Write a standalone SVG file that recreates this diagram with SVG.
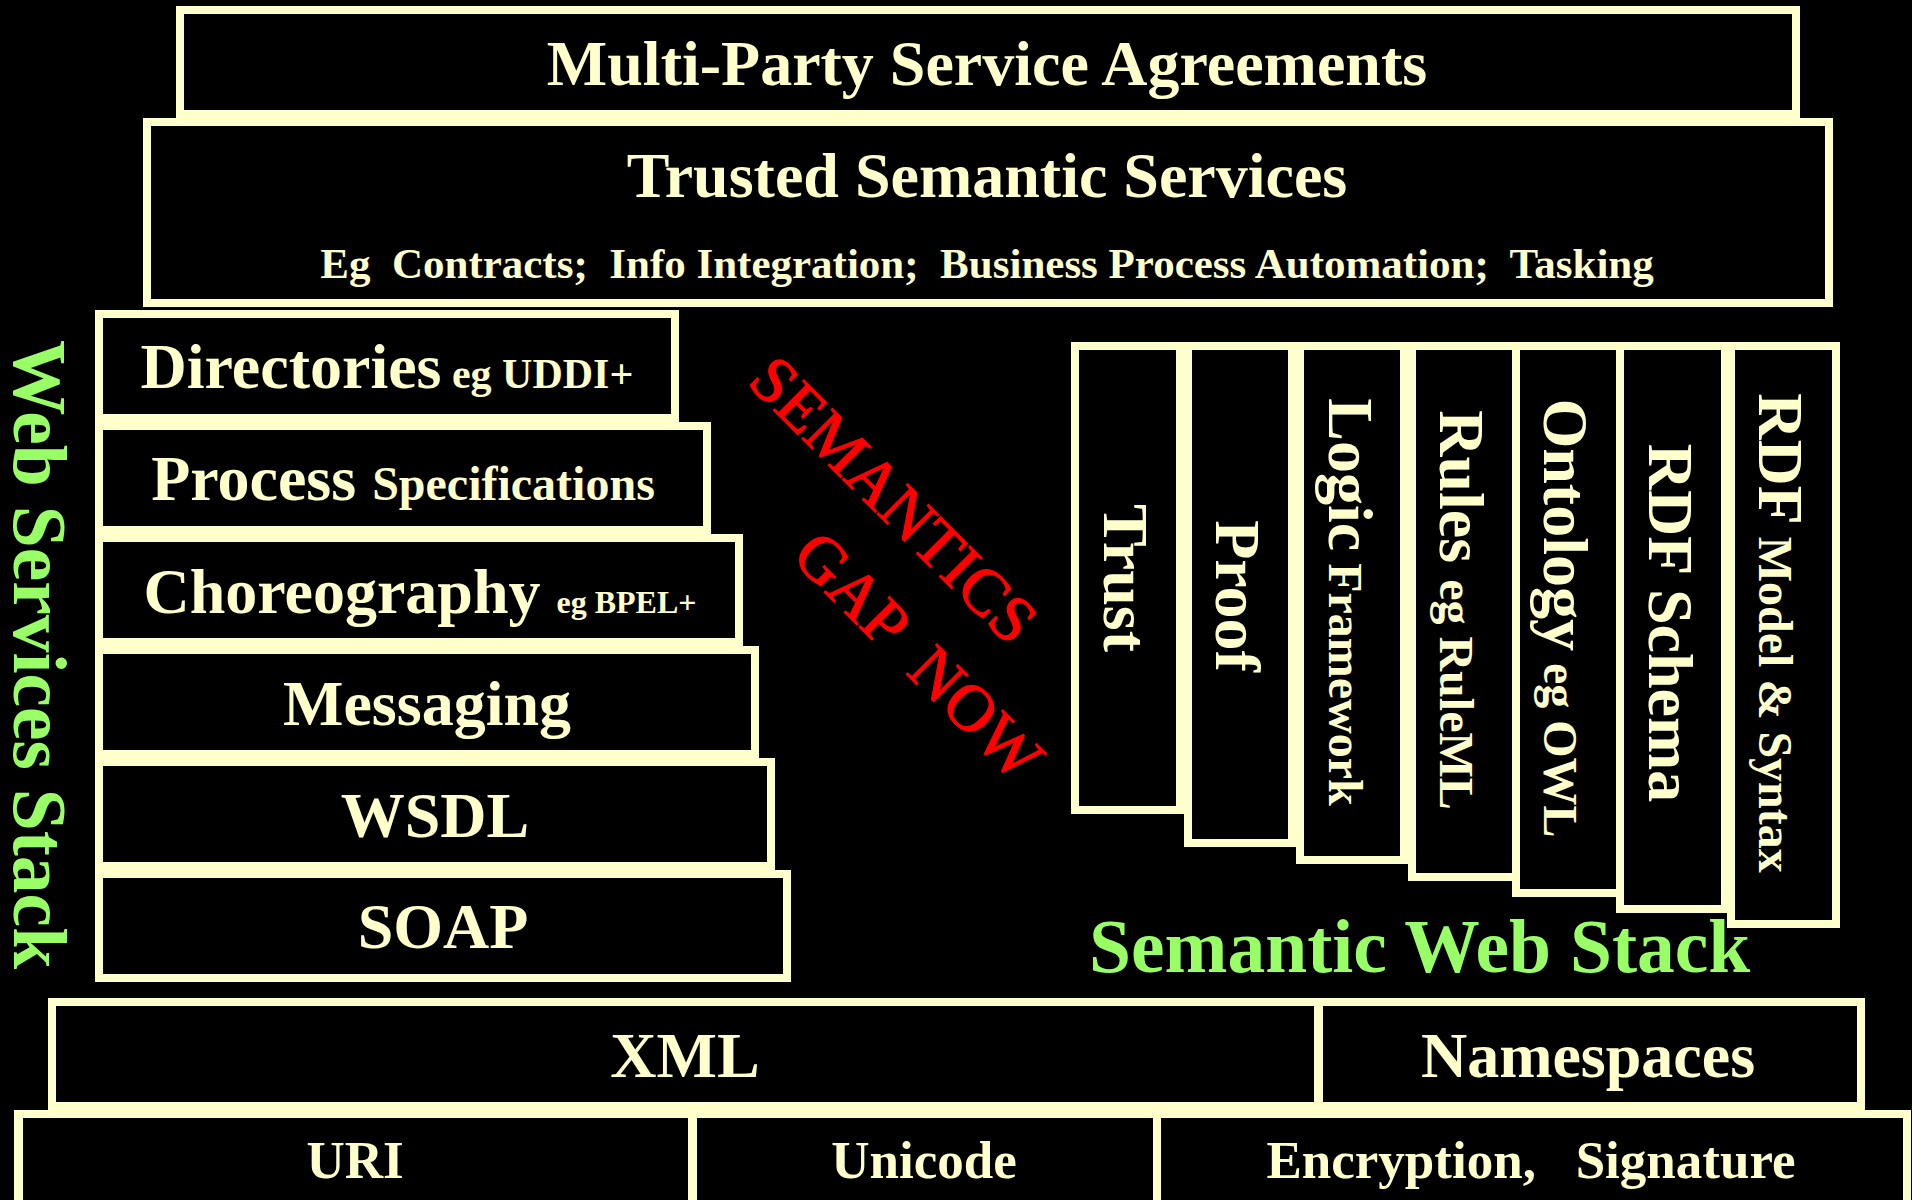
<svg xmlns="http://www.w3.org/2000/svg" width="1912" height="1200" viewBox="0 0 1912 1200">
  <style>
    .frame { fill: #FFFFCC; }
    .cell { fill: #000000; }
    .lbl { font-family: "Liberation Serif", "Times New Roman", serif; font-weight: bold; fill: #FFFFCC; }
    .mid { text-anchor: middle; }
    .f64 { font-size: 64px; }
    .f53 { font-size: 53px; }
    .f48 { font-size: 48px; }
    .f43 { font-size: 43px; }
    .f42 { font-size: 42px; }
    .f32 { font-size: 32px; }
    .stack { font-family: "Liberation Serif", "Times New Roman", serif; font-weight: bold; font-size: 75.5px; fill: #99FF66; }
    .gap { font-family: "Liberation Serif", "Times New Roman", serif; font-size: 66px; fill: #FF0000; stroke: #FF0000; stroke-width: 1.2px; }
  </style>

  <rect x="0" y="0" width="1912" height="1200" fill="#000000"/>

  <!-- top layers -->
  <g id="multi-party">
    <rect class="frame" x="176" y="6" width="1624" height="112"/>
    <rect class="cell" x="184" y="14" width="1608" height="96"/>
    <text class="lbl mid f64" x="987" y="85">Multi-Party Service Agreements</text>
  </g>

  <g id="trusted-services">
    <rect class="frame" x="143" y="118" width="1690" height="189"/>
    <rect class="cell" x="151" y="126" width="1674" height="173"/>
    <text class="lbl mid f64" x="987" y="197">Trusted Semantic Services</text>
    <text class="lbl mid f43" x="987" y="278" xml:space="preserve">Eg  Contracts;  Info Integration;  Business Process Automation;  Tasking</text>
  </g>

  <!-- web services stack (left) -->
  <g id="directories">
    <rect class="frame" x="95" y="310" width="584" height="112"/>
    <rect class="cell" x="103" y="318" width="568" height="96"/>
    <text class="lbl mid" x="387" y="388"><tspan class="f64">Directories</tspan><tspan class="f42"> eg UDDI+</tspan></text>
  </g>

  <g id="process">
    <rect class="frame" x="95" y="422" width="616" height="112"/>
    <rect class="cell" x="103" y="430" width="600" height="96"/>
    <text class="lbl mid" x="403" y="500"><tspan class="f64">Process </tspan><tspan class="f48">Specifications</tspan></text>
  </g>

  <g id="choreography">
    <rect class="frame" x="95" y="534" width="648" height="112"/>
    <rect class="cell" x="103" y="542" width="632" height="96"/>
    <text class="lbl mid" x="420" y="613"><tspan class="f64">Choreography </tspan><tspan class="f32">eg BPEL+</tspan></text>
  </g>

  <g id="messaging">
    <rect class="frame" x="95" y="646" width="664" height="112"/>
    <rect class="cell" x="103" y="654" width="648" height="96"/>
    <text class="lbl mid f64" x="427" y="725">Messaging</text>
  </g>

  <g id="wsdl">
    <rect class="frame" x="95" y="758" width="680" height="112"/>
    <rect class="cell" x="103" y="766" width="664" height="96"/>
    <text class="lbl mid f64" x="435" y="837">WSDL</text>
  </g>

  <g id="soap">
    <rect class="frame" x="95" y="870" width="696" height="112"/>
    <rect class="cell" x="103" y="878" width="680" height="96"/>
    <text class="lbl mid f64" x="443" y="948">SOAP</text>
  </g>

  <g id="web-services-title">
    <text class="stack" transform="translate(14,340) rotate(90)">Web Services Stack</text>
  </g>

  <!-- diagonal note between the stacks -->
  <g id="semantics-gap">
    <text class="gap" transform="translate(746,383) rotate(45)">SEMANTICS</text>
    <text class="gap" transform="translate(790,558) rotate(45)" xml:space="preserve">GAP  NOW</text>
  </g>

  <!-- semantic web stack (right), vertical columns -->
  <g id="trust">
    <rect class="frame" x="1071" y="342" width="113" height="472"/>
    <rect class="cell" x="1079" y="350" width="97" height="456"/>
    <text class="lbl mid f64" transform="translate(1104,578) rotate(90)">Trust</text>
  </g>

  <g id="proof">
    <rect class="frame" x="1184" y="342" width="112" height="505"/>
    <rect class="cell" x="1192" y="350" width="96" height="489"/>
    <text class="lbl mid f64" transform="translate(1216,596) rotate(90)">Proof</text>
  </g>

  <g id="logic">
    <rect class="frame" x="1296" y="342" width="112" height="522"/>
    <rect class="cell" x="1304" y="350" width="96" height="506"/>
    <text class="lbl mid" transform="translate(1329,602) rotate(90)"><tspan class="f64">Logic</tspan><tspan class="f48"> Framework</tspan></text>
  </g>

  <g id="rules">
    <rect class="frame" x="1408" y="342" width="112" height="539"/>
    <rect class="cell" x="1416" y="350" width="96" height="523"/>
    <text class="lbl mid" transform="translate(1440,610) rotate(90)"><tspan class="f64">Rules </tspan><tspan class="f48">eg RuleML</tspan></text>
  </g>

  <g id="ontology">
    <rect class="frame" x="1512" y="342" width="112" height="555"/>
    <rect class="cell" x="1520" y="350" width="96" height="539"/>
    <text class="lbl mid" transform="translate(1544,618) rotate(90)"><tspan class="f64">Ontology</tspan><tspan class="f48"> eg OWL</tspan></text>
  </g>

  <g id="rdf-schema">
    <rect class="frame" x="1616" y="342" width="113" height="571"/>
    <rect class="cell" x="1624" y="350" width="97" height="555"/>
    <text class="lbl mid f64" transform="translate(1649,623) rotate(90)">RDF Schema</text>
  </g>

  <g id="rdf-model">
    <rect class="frame" x="1727" y="342" width="113" height="586"/>
    <rect class="cell" x="1735" y="350" width="97" height="570"/>
    <text class="lbl mid" transform="translate(1759,633) rotate(90)"><tspan class="f64">RDF</tspan><tspan class="f48"> Model &amp; Syntax</tspan></text>
  </g>

  <g id="semantic-web-title">
    <text class="stack" x="1089" y="972">Semantic Web Stack</text>
  </g>

  <!-- shared base layers -->
  <g id="xml-row">
    <rect class="frame" x="48" y="998" width="1817" height="112"/>
    <g id="xml">
      <rect class="cell" x="56" y="1006" width="1258" height="96"/>
      <text class="lbl mid f64" x="685" y="1077">XML</text>
    </g>
    <g id="namespaces">
      <rect class="cell" x="1323" y="1006" width="534" height="96"/>
      <text class="lbl mid f64" x="1588" y="1077">Namespaces</text>
    </g>
  </g>

  <g id="base-row">
    <rect class="frame" x="14" y="1110" width="1897" height="90"/>
    <g id="uri">
      <rect class="cell" x="23" y="1118" width="665" height="82"/>
      <text class="lbl mid f53" x="355" y="1178">URI</text>
    </g>
    <g id="unicode">
      <rect class="cell" x="697" y="1118" width="456" height="82"/>
      <text class="lbl mid f53" x="924" y="1178">Unicode</text>
    </g>
    <g id="encryption">
      <rect class="cell" x="1161" y="1118" width="742" height="82"/>
      <text class="lbl mid f53" x="1531" y="1178" xml:space="preserve">Encryption,   Signature</text>
    </g>
  </g>
</svg>
